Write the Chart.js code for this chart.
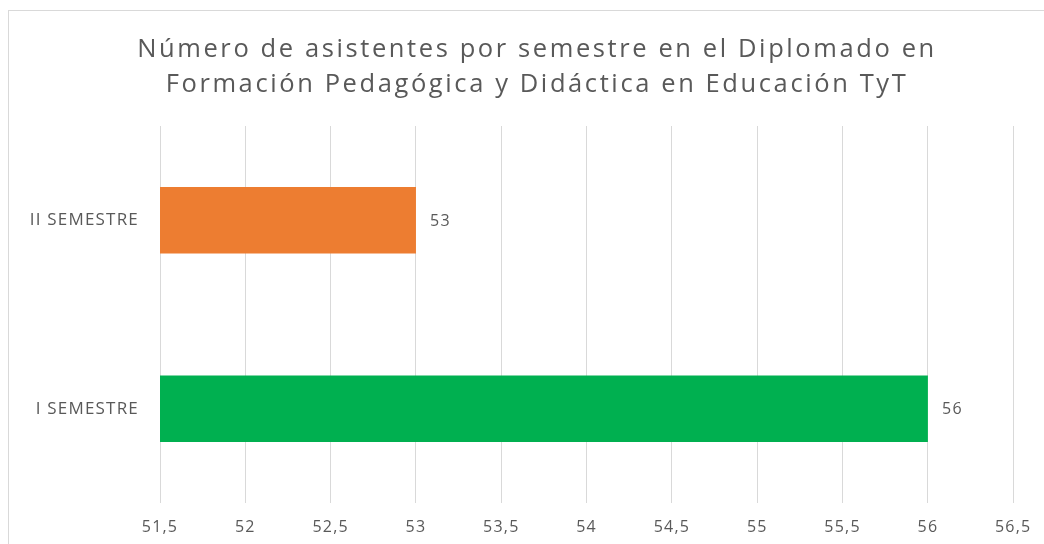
<!DOCTYPE html>
<html>
<head>
<meta charset="utf-8">
<script src="https://cdn.jsdelivr.net/npm/chart.js@4/dist/chart.umd.min.js"></script>
<style>
  html, body { margin: 0; padding: 0; background: #fff; }
  #wrap { position: relative; width: 1044px; height: 544px; overflow: hidden; }
  #frame { position: absolute; left: 8px; top: 10px; width: 1100px; height: 600px; border: 1px solid #d9d9d9; box-sizing: border-box; }
  #chart { position: absolute; left: 0; top: 0; }
</style>
</head>
<body>
<div id="wrap">
  <div id="frame"></div>
  <canvas id="chart" width="1044" height="544"></canvas>
</div>
<script>
const categories = ['II SEMESTRE', 'I SEMESTRE'];
const attendees = [53, 56];
const barColors = ['#ED7D31', '#00B050'];
const titleLines = [
  'Número de asistentes por semestre en el Diplomado en',
  'Formación Pedagógica y Didáctica en Educación TyT'
];
const xMin = 51.5;
const xMax = 56.5;
const xStep = 0.5;

const textGray = '#595959';
const fontFamily = "'Open Sans', 'Liberation Sans', sans-serif";

// Excel-like wide lettering for axis labels
const spacing = {
  id: 'spacing',
  beforeDraw(chart) { chart.ctx.letterSpacing = '1.2px'; },
  beforeDatasetsDraw(chart) { chart.ctx.letterSpacing = '0px'; }
};

// value next to each bar, plus the two-line title
const valueLabels = {
  id: 'valueLabels',
  afterDatasetsDraw(chart) {
    const ctx = chart.ctx;
    const meta = chart.getDatasetMeta(0);
    ctx.save();
    ctx.letterSpacing = '1.5px';
    ctx.font = '16px ' + fontFamily;
    ctx.fillStyle = textGray;
    ctx.textAlign = 'left';
    ctx.textBaseline = 'middle';
    meta.data.forEach((bar, i) => {
      ctx.fillText(String(attendees[i]), bar.x + 14, bar.y + 1);
    });

    ctx.letterSpacing = '2.6px';
    ctx.font = '25.5px ' + fontFamily;
    ctx.textAlign = 'center';
    ctx.textBaseline = 'alphabetic';
    ctx.fillText(titleLines[0], 537, 57);
    ctx.fillText(titleLines[1], 537, 92);
    ctx.restore();
  }
};

const ctx = document.getElementById('chart').getContext('2d');
new Chart(ctx, {
  type: 'bar',
  data: {
    labels: categories,
    datasets: [{
      data: attendees,
      backgroundColor: barColors,
      borderWidth: 0,
      barPercentage: 0.352,
      categoryPercentage: 1
    }]
  },
  options: {
    indexAxis: 'y',
    responsive: false,
    animation: false,
    layout: { padding: { left: 0, right: 30, top: 126, bottom: 0 } },
    plugins: {
      legend: { display: false },
      tooltip: { enabled: false },
      title: { display: false }
    },
    scales: {
      x: {
        min: xMin,
        max: xMax,
        grid: { color: '#d9d9d9', lineWidth: 1, drawTicks: false },
        border: { display: false },
        ticks: {
          stepSize: xStep,
          padding: 15,
          color: textGray,
          font: { family: fontFamily, size: 16 },
          callback: v => String(v).replace('.', ',')
        },
        afterFit: scale => { scale.height = 41; }
      },
      y: {
        grid: { display: false },
        border: { display: false },
        ticks: {
          padding: 13,
          color: textGray,
          font: { family: fontFamily, size: 17 }
        },
        afterFit: scale => { scale.width = 160; }
      }
    }
  },
  plugins: [spacing, valueLabels]
});
</script>
</body>
</html>
